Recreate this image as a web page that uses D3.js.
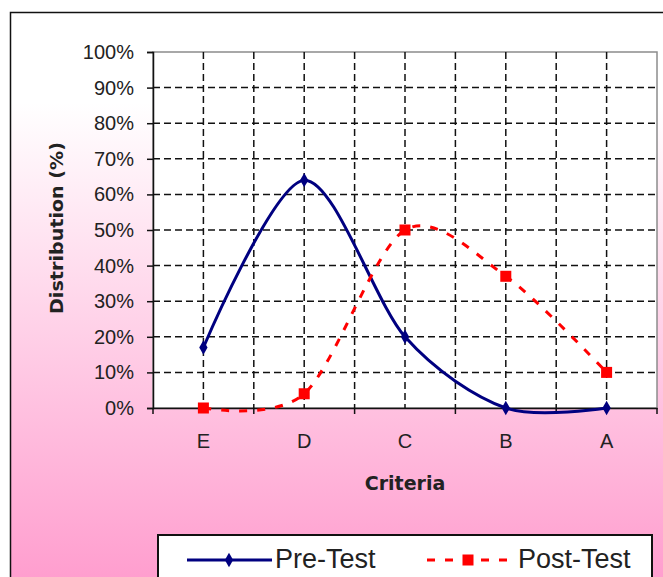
<!DOCTYPE html>
<html>
<head>
<meta charset="utf-8">
<script src="https://cdn.jsdelivr.net/npm/d3@7"></script>
<style>
  body { margin: 0; background: #fff; }
  svg { display: block; }
</style>
</head>
<body>
<svg id="chart" width="663" height="577"></svg>
<script>
// data
const categories = ['E', 'D', 'C', 'B', 'A'];
const preTest = [17, 64, 20, 0, 0];
const postTest = [0, 4, 50, 37, 10];
const yTicks = [0, 10, 20, 30, 40, 50, 60, 70, 80, 90, 100];

const svg = d3.select('#chart');

// background gradient white -> pink
const defs = svg.append('defs');
const grad = defs.append('linearGradient')
    .attr('id', 'bg')
    .attr('x1', 0).attr('y1', 0).attr('x2', 0).attr('y2', 1);
grad.append('stop').attr('offset', '0%').attr('stop-color', '#ffffff');
grad.append('stop').attr('offset', '15%').attr('stop-color', '#ffffff');
grad.append('stop').attr('offset', '100%').attr('stop-color', '#ff97cb');

svg.append('rect')
    .attr('x', 10.5).attr('y', 12.5)
    .attr('width', 700).attr('height', 600)
    .attr('fill', 'url(#bg)')
    .attr('stroke', '#111')
    .attr('stroke-width', 1.5);

const plot = { left: 153, right: 657, top: 52, bottom: 408 };

const x = d3.scaleBand().domain(categories).range([plot.left, plot.right]);
const y = d3.scaleLinear().domain([0, 100]).range([plot.bottom, plot.top]);
const bw = x.bandwidth();
const cx = c => x(c) + bw / 2;

// plot area
svg.append('rect')
    .attr('x', plot.left).attr('y', plot.top)
    .attr('width', plot.right - plot.left).attr('height', plot.bottom - plot.top)
    .attr('fill', '#fff')
    .attr('stroke', '#8c8c8c')
    .attr('stroke-width', 1.5);

// horizontal gridlines
svg.append('g').selectAll('line')
    .data(yTicks.filter(t => t > 0 && t < 100))
    .enter().append('line')
    .attr('x1', plot.left).attr('x2', plot.right)
    .attr('y1', d => y(d)).attr('y2', d => y(d))
    .attr('stroke', '#111')
    .attr('stroke-width', 1.5)
    .attr('stroke-dasharray', '7,4');

// vertical gridlines at category centres and between categories
const vLines = categories.map(cx).concat(categories.slice(1).map(c => x(c)));
svg.append('g').selectAll('line')
    .data(vLines)
    .enter().append('line')
    .attr('x1', d => d).attr('x2', d => d)
    .attr('y1', plot.top).attr('y2', plot.bottom)
    .attr('stroke', '#111')
    .attr('stroke-width', 1.5)
    .attr('stroke-dasharray', '7,4');

// y axis
const yAxis = svg.append('g')
    .attr('transform', `translate(${plot.left},0)`)
    .call(d3.axisLeft(y).tickValues(yTicks).tickFormat(d => d + '%').tickSize(6).tickPadding(13));
yAxis.select('.domain').attr('stroke', '#111').attr('stroke-width', 1.5);
yAxis.selectAll('.tick line').attr('stroke', '#111').attr('stroke-width', 1.5);
yAxis.selectAll('.tick text')
    .attr('font-family', 'Liberation Sans, Arial, sans-serif')
    .attr('font-size', 20)
    .attr('fill', '#222');

// x axis
const xAxis = svg.append('g')
    .attr('transform', `translate(0,${plot.bottom})`)
    .call(d3.axisBottom(x).tickSize(0).tickPadding(26));
xAxis.select('.domain').attr('stroke', '#111').attr('stroke-width', 1.5);
xAxis.selectAll('.tick text')
    .attr('font-family', 'Liberation Sans, Arial, sans-serif')
    .attr('font-size', 20)
    .attr('fill', '#222');
// tick marks between categories
xAxis.append('g').selectAll('line')
    .data(categories.map(c => x(c)).concat([plot.right]))
    .enter().append('line')
    .attr('x1', d => d).attr('x2', d => d)
    .attr('y1', 0).attr('y2', 6)
    .attr('stroke', '#111')
    .attr('stroke-width', 1.5);

// axis titles
svg.append('text')
    .attr('x', (plot.left + plot.right) / 2)
    .attr('y', 490)
    .attr('text-anchor', 'middle')
    .attr('font-family', 'DejaVu Sans, Verdana, sans-serif')
    .attr('font-weight', 'bold')
    .attr('font-size', 19)
    .attr('fill', '#222')
    .text('Criteria');

svg.append('text')
    .attr('transform', 'translate(63,228) rotate(-90)')
    .attr('text-anchor', 'middle')
    .attr('font-family', 'DejaVu Sans, Verdana, sans-serif')
    .attr('font-weight', 'bold')
    .attr('font-size', 18)
    .attr('textLength', 172)
    .attr('lengthAdjust', 'spacingAndGlyphs')
    .attr('fill', '#222')
    .text('Distribution (%)');

// lines
const line = d3.line()
    .x((d, i) => cx(categories[i]))
    .y(d => y(d))
    .curve(d3.curveCardinal.tension(0.1));

svg.append('path')
    .datum(preTest)
    .attr('d', line)
    .attr('fill', 'none')
    .attr('stroke', '#000080')
    .attr('stroke-width', 3);

svg.append('path')
    .datum(postTest)
    .attr('d', line)
    .attr('fill', 'none')
    .attr('stroke', '#ff0000')
    .attr('stroke-width', 3)
    .attr('stroke-dasharray', '8,10');

// markers
const diamond = d3.symbol().type(d3.symbolDiamond).size(60);
svg.append('g').selectAll('path')
    .data(preTest)
    .enter().append('path')
    .attr('d', diamond)
    .attr('transform', (d, i) => `translate(${cx(categories[i])},${y(d)})`)
    .attr('fill', '#000080');

svg.append('g').selectAll('rect')
    .data(postTest)
    .enter().append('rect')
    .attr('x', (d, i) => cx(categories[i]) - 5.5)
    .attr('y', d => y(d) - 5.5)
    .attr('width', 11).attr('height', 11)
    .attr('fill', '#ff0000');

// legend
const legend = svg.append('g');
legend.append('rect')
    .attr('x', 158).attr('y', 535)
    .attr('width', 494).attr('height', 70)
    .attr('fill', '#fff')
    .attr('stroke', '#111')
    .attr('stroke-width', 2);

legend.append('line')
    .attr('x1', 187).attr('x2', 272).attr('y1', 560).attr('y2', 560)
    .attr('stroke', '#000080').attr('stroke-width', 3);
legend.append('path')
    .attr('d', diamond)
    .attr('transform', 'translate(229,560)')
    .attr('fill', '#000080');
legend.append('text')
    .attr('x', 275).attr('y', 568)
    .attr('font-family', 'Liberation Sans, Arial, sans-serif')
    .attr('font-size', 27)
    .attr('fill', '#222')
    .text('Pre-Test');

legend.append('line')
    .attr('x1', 427).attr('x2', 508).attr('y1', 560).attr('y2', 560)
    .attr('stroke', '#ff0000').attr('stroke-width', 3)
    .attr('stroke-dasharray', '8,10');
legend.append('rect')
    .attr('x', 462.5).attr('y', 554.5)
    .attr('width', 11).attr('height', 11)
    .attr('fill', '#ff0000');
legend.append('text')
    .attr('x', 518).attr('y', 568)
    .attr('font-family', 'Liberation Sans, Arial, sans-serif')
    .attr('font-size', 27)
    .attr('fill', '#222')
    .text('Post-Test');
</script>
</body>
</html>
